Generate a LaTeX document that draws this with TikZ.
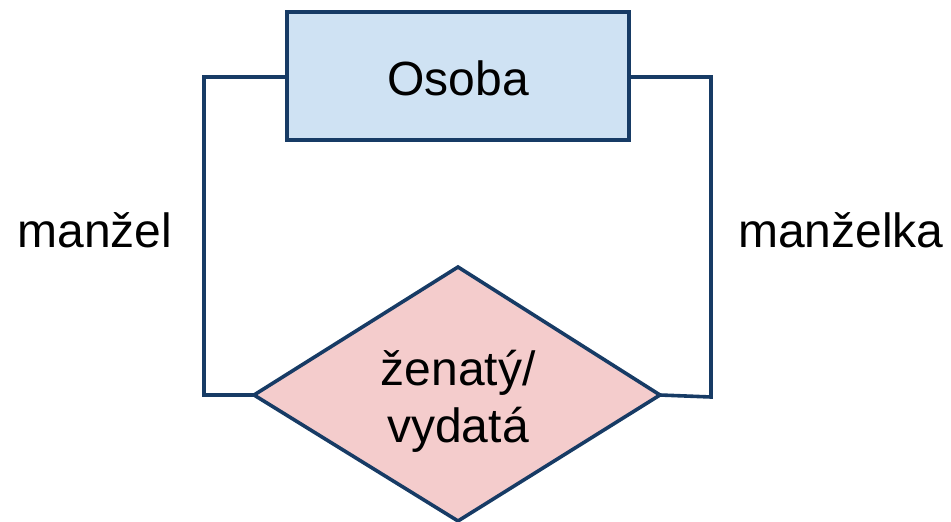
\documentclass[tikz,border=0pt]{standalone}
\usepackage{fontspec}
\setmainfont{Liberation Sans}
\definecolor{edge}{RGB}{23,59,101}
\definecolor{entfill}{RGB}{207,226,243}
\definecolor{relfill}{RGB}{244,204,204}
\begin{document}
\begin{tikzpicture}[x=1pt,y=-1pt,
  shapeline/.style={draw=edge,line width=3.6pt,line join=miter},
  conn/.style={draw=edge,line width=3.6pt,line join=miter},
  lbl/.style={font=\fontsize{48}{57}\selectfont,inner sep=0pt}]
\useasboundingbox (0,0) rectangle (951,522);
% entity
\draw[shapeline,fill=entfill] (287,12) rectangle (629,140);
\coordinate (eL) at (287,77);
\coordinate (eR) at (629,77);
\node[lbl] (osoba) at (458,78) {Osoba};
% relationship diamond
\coordinate (dT) at (458,267);
\coordinate (dR) at (660,395);
\coordinate (dB) at (458,521);
\coordinate (dL) at (254,395);
\draw[shapeline,fill=relfill] (dT) -- (dR) -- (dB) -- (dL) -- cycle;
\node[lbl,align=center] (rel) at (458,401) {ženatý/\\vydatá};
% connectors
\coordinate (lc1) at (204,77);
\coordinate (lc2) at (204,395);
\coordinate (rc1) at (711,77);
\coordinate (rc2) at (711,397);
\draw[conn] (eL) -- (lc1) -- (lc2) -- (dL);
\draw[conn] (eR) -- (rc1) -- (rc2) -- (dR);
% role labels
\node[lbl] (manzel) at (95,230) {manžel};
\node[lbl] (manzelka) at (841,230) {manželka};
\end{tikzpicture}
\end{document}
